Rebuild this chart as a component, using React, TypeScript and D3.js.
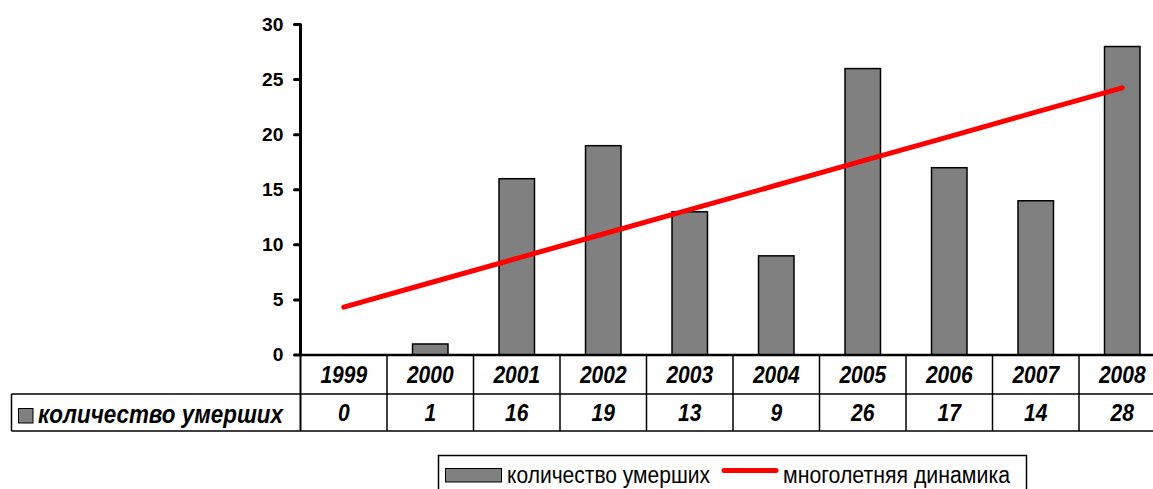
import React from "react";
import * as d3 from "d3";

// Годы и количество умерших
const years = ["1999", "2000", "2001", "2002", "2003", "2004", "2005", "2006", "2007", "2008"];
const deaths = [0, 1, 16, 19, 13, 9, 26, 17, 14, 28];
const yTicks = [0, 5, 10, 15, 20, 25, 30];
const seriesName = "количество умерших";
const trendName = "многолетняя динамика";

// Линейный тренд (метод наименьших квадратов) по ряду данных
function linearTrend(values: number[]): number[] {
  const xs = values.map((_, i) => i);
  const mx = d3.mean(xs) as number;
  const my = d3.mean(values) as number;
  const sxy = d3.sum(xs, (x, i) => (x - mx) * (values[i] - my));
  const sxx = d3.sum(xs, (x) => (x - mx) * (x - mx));
  const slope = sxy / sxx;
  const intercept = my - slope * mx;
  return xs.map((x) => intercept + slope * x);
}

type StretchProps = {
  x: number;
  y: number;
  sx?: number;
  sy?: number;
  anchor?: "start" | "middle" | "end";
  size: number;
  bold?: boolean;
  italic?: boolean;
  length?: number;
  children: React.ReactNode;
};

// Текст с отдельным масштабом по осям (baseline в точке x, y)
function SText({ x, y, sx = 1, sy = 1, anchor = "start", size, bold, italic, length, children }: StretchProps) {
  return (
    <text
      transform={`translate(${x},${y}) scale(${sx},${sy})`}
      textAnchor={anchor}
      fontSize={size}
      fontWeight={bold ? "bold" : "normal"}
      fontStyle={italic ? "italic" : "normal"}
      textLength={length}
      lengthAdjust={length ? "spacingAndGlyphs" : undefined}
    >
      {children}
    </text>
  );
}

export default function App() {
  const width = 1153;
  const height = 489;
  const left = 300.5;
  const colW = 86.5;
  const right = left + colW * years.length;
  const top = 24.5;
  const bottom = 355;
  const row1 = 394;
  const row2 = 431;
  const labelLeft = 11.5;

  const x = d3.scaleBand<string>().domain(years).range([left, right]).paddingInner(0.59).paddingOuter(0.295);
  const y = d3.scaleLinear().domain([0, 30]).range([bottom, top]);
  const trend = linearTrend(deaths);
  const cx = (yr: string) => (x(yr) as number) + x.bandwidth() / 2;

  const line = d3
    .line<number>()
    .x((_, i) => cx(years[i]))
    .y((d) => y(d));

  const font = "'Liberation Sans', Arial, sans-serif";
  const colEdges = d3.range(years.length + 1).map((i) => left + i * colW);

  return (
    <svg
      width={width}
      height={height}
      style={{ position: "absolute", left: 0, top: 0, background: "#fff" }}
      fontFamily={font}
    >
      {/* столбцы */}
      {deaths.map((d, i) => (
        <rect
          key={years[i]}
          x={x(years[i])}
          y={y(d)}
          width={x.bandwidth()}
          height={bottom - y(d)}
          fill="#808080"
          stroke="#000"
          strokeWidth={1.5}
        />
      ))}

      {/* линия тренда */}
      <path d={line(trend) || ""} fill="none" stroke="#ff0000" strokeWidth={5} strokeLinecap="round" />

      {/* ось Y */}
      <line x1={left} x2={left} y1={top} y2={bottom} stroke="#000" strokeWidth={3} />
      {yTicks.map((t) => (
        <g key={t}>
          <line x1={left - 6} x2={left} y1={y(t)} y2={y(t)} stroke="#000" strokeWidth={3} strokeLinecap="round" />
          <SText x={left - 17} y={y(t) + 6.3} anchor="end" size={17.5} sx={1.1} bold>
            {t}
          </SText>
        </g>
      ))}

      {/* таблица данных */}
      <line x1={left} x2={right} y1={bottom} y2={bottom} stroke="#000" strokeWidth={2.5} />
      <line x1={labelLeft} x2={right} y1={row1} y2={row1} stroke="#000" strokeWidth={1.5} />
      <line x1={labelLeft} x2={right} y1={row2} y2={row2} stroke="#000" strokeWidth={1.5} />
      <line x1={labelLeft} x2={labelLeft} y1={row1} y2={row2} stroke="#000" strokeWidth={1.5} />
      {colEdges.map((cxv, i) => (
        <line key={i} x1={cxv} x2={cxv} y1={bottom} y2={row2} stroke="#000" strokeWidth={i === 0 ? 2 : 1.5} />
      ))}
      {years.map((yr, i) => (
        <g key={yr}>
          <SText x={left + (i + 0.5) * colW} y={382.8} anchor="middle" size={21} sy={1.1} bold italic>
            {yr}
          </SText>
          <SText x={left + (i + 0.5) * colW} y={421.3} anchor="middle" size={21} sy={1.1} bold italic>
            {deaths[i]}
          </SText>
        </g>
      ))}
      <rect x={18.5} y={408.5} width={14.5} height={14.5} fill="#808080" stroke="#000" strokeWidth={1} />
      <SText x={38} y={423} size={23} sy={1.12} bold italic length={245}>
        {seriesName}
      </SText>

      {/* легенда */}
      <rect x={438.5} y={455.5} width={588} height={40} fill="#fff" stroke="#000" strokeWidth={1.5} />
      <rect x={445.5} y={468.5} width={56} height={13.5} fill="#808080" stroke="#000" strokeWidth={1} />
      <SText x={507} y={483} size={22} sy={1.1} length={203}>
        {seriesName}
      </SText>
      <line x1={724} x2={776} y1={470.5} y2={470.5} stroke="#ff0000" strokeWidth={5} strokeLinecap="round" />
      <SText x={783} y={483} size={22} sy={1.1} length={227}>
        {trendName}
      </SText>
    </svg>
  );
}
